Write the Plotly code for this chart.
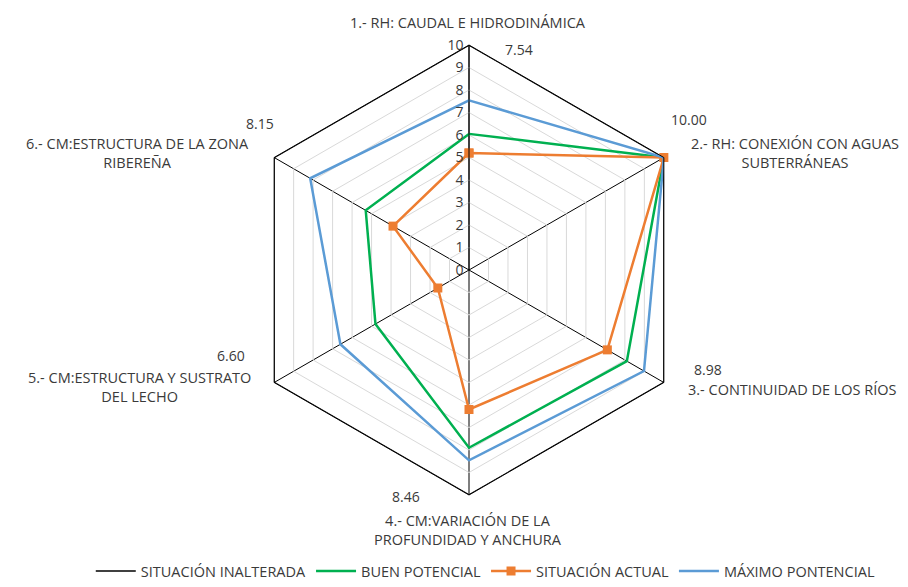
import plotly.graph_objects as go

# Categories (radar axes), in clockwise order starting at the top
categories = [
    "1.- RH: CAUDAL E HIDRODINÁMICA",
    "2.- RH: CONEXIÓN CON AGUAS SUBTERRÁNEAS",
    "3.- CONTINUIDAD DE LOS RÍOS",
    "4.- CM:VARIACIÓN DE LA PROFUNDIDAD Y ANCHURA",
    "5.- CM:ESTRUCTURA Y SUSTRATO DEL LECHO",
    "6.- CM:ESTRUCTURA DE LA ZONA RIBEREÑA",
]

# Series values
situacion_inalterada = [10, 10, 10, 10, 10, 10]
buen_potencial = [6.05, 10, 8.1, 7.9, 4.8, 5.3]
situacion_actual = [5.2, 10, 7.1, 6.2, 1.6, 3.9]
maximo_potencial = [7.54, 10.00, 8.98, 8.46, 6.60, 8.15]

series_names = ["SITUACIÓN INALTERADA", "BUEN POTENCIAL", "SITUACIÓN ACTUAL", "MÁXIMO PONTENCIAL"]
radial_ticks = list(range(0, 11))

FONT = "Open Sans"
TXT = "#3A3A3A"
CAT_SIZE = 14.5
LBL_SIZE = 14

W, H = 908, 587
cx, cy, R = 469, 270, 225


def closed(vals):
    return list(vals) + [vals[0]]


theta = closed(categories)

fig = go.Figure()
fig.add_trace(go.Scatterpolar(
    r=closed(situacion_inalterada), theta=theta, mode="lines", name=series_names[0],
    line=dict(color="#000000", width=1.5),
))
fig.add_trace(go.Scatterpolar(
    r=closed(buen_potencial), theta=theta, mode="lines", name=series_names[1],
    line=dict(color="#00B050", width=2.5),
))
fig.add_trace(go.Scatterpolar(
    r=closed(situacion_actual), theta=theta, mode="lines+markers", name=series_names[2],
    line=dict(color="#ED7D31", width=2.5),
    marker=dict(symbol="square", size=9, color="#ED7D31"),
))
fig.add_trace(go.Scatterpolar(
    r=closed(maximo_potencial), theta=theta, mode="lines", name=series_names[3],
    line=dict(color="#5B9BD5", width=2.5),
))

# Value labels for the maximum-potential series
value_label_pos = [(519, 50), (689, 120), (708, 369), (406, 496), (231, 355), (260, 124)]
annotations = []
for v, (px, py) in zip(maximo_potencial, value_label_pos):
    annotations.append(dict(
        text=f"{v:.2f}", x=px / W, y=1 - py / H, xref="paper", yref="paper",
        showarrow=False, xanchor="center", yanchor="middle",
        font=dict(family=FONT, size=LBL_SIZE, color=TXT),
    ))

# Category labels around the chart (multi-line labels are centred)
cat_labels = [
    ("1.- RH: CAUDAL E HIDRODINÁMICA", 468, 22, "center"),
    ("2.- RH: CONEXIÓN CON AGUAS<br>SUBTERRÁNEAS", 795, 153, "center"),
    ("3.- CONTINUIDAD DE LOS RÍOS", 686, 389, "left"),
    ("4.- CM:VARIACIÓN DE LA<br>PROFUNDIDAD Y ANCHURA", 468, 530, "center"),
    ("5.- CM:ESTRUCTURA Y SUSTRATO<br>DEL LECHO", 253, 387, "right"),
    ("6.- CM:ESTRUCTURA DE LA ZONA<br>RIBEREÑA", 251, 153, "right"),
]
for text, px, py, xa in cat_labels:
    annotations.append(dict(
        text=text, x=px / W, y=1 - py / H, xref="paper", yref="paper",
        showarrow=False, xanchor=xa, yanchor="middle", align="center",
        font=dict(family=FONT, size=CAT_SIZE, color=TXT),
    ))

fig.update_layout(
    width=W, height=H,
    margin=dict(l=0, r=0, t=0, b=0),
    paper_bgcolor="white",
    font=dict(family=FONT, size=LBL_SIZE, color=TXT),
    polar=dict(
        domain=dict(x=[(cx - R) / W, (cx + R) / W], y=[1 - (cy + R) / H, 1 - (cy - R) / H]),
        gridshape="linear",
        bgcolor="white",
        radialaxis=dict(
            range=[0, 10], tickvals=radial_ticks, ticktext=[str(t) for t in radial_ticks],
            angle=90, tickangle=90, side="counterclockwise",
            showline=True, linecolor="#000000", linewidth=1,
            gridcolor="#D9D9D9", gridwidth=1, ticks="",
            tickfont=dict(family=FONT, size=LBL_SIZE, color=TXT),
        ),
        angularaxis=dict(
            rotation=90, direction="clockwise",
            showticklabels=False, ticks="",
            gridcolor="#000000", gridwidth=1,
            linecolor="#000000", linewidth=1,
        ),
    ),
    legend=dict(
        orientation="h", x=0.535, xanchor="center", y=0.0, yanchor="bottom",
        font=dict(family=FONT, size=CAT_SIZE, color=TXT),
        itemwidth=40, tracegroupgap=0,
    ),
    annotations=annotations,
    showlegend=True,
)

fig.write_html("out.html")
